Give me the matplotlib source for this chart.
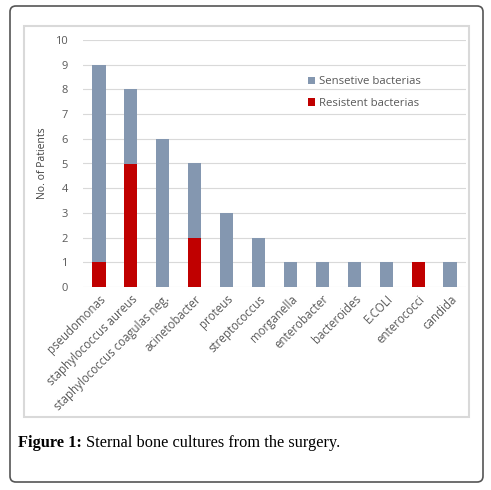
import numpy as np
import matplotlib
matplotlib.use("Agg")
import matplotlib.pyplot as plt
from matplotlib.patches import FancyBboxPatch, Rectangle

# bacteria found in the sternal bone cultures
bacteria = ["pseudomonas", "staphylococcus aureus", "staphylococcus coagulas neg.",
            "acinetobacter", "proteus", "streptococcus", "morganella", "enterobacter",
            "bacteroides", "E.COLI", "enterococci", "candida"]
resistent = [1, 5, 0, 2, 0, 0, 0, 0, 0, 0, 1, 0]
sensetive = [8, 3, 6, 3, 3, 2, 1, 1, 1, 1, 0, 1]
yticks = list(range(0, 11))

gray_blue = "#8497B0"
dark_red = "#C00000"
txt = "#595959"

plt.rcParams['font.family'] = ['Open Sans', 'DejaVu Sans']

fig = plt.figure(figsize=(4.91, 4.90), dpi=100)

# outer rounded frame of the figure box
fig.patches.append(FancyBboxPatch((10/491, 1-482/490), 473/491, 476/490,
                                  boxstyle="round,pad=0,rounding_size=0.012",
                                  transform=fig.transFigure, fill=False,
                                  edgecolor="#555555", linewidth=1.2))
# light frame of the chart area
fig.patches.append(Rectangle((24/491, 1-417/490), 445/491, 391/490,
                             transform=fig.transFigure, fill=False,
                             edgecolor="#D9D9D9", linewidth=1.5))

ax = fig.add_axes([83/491, 1-287/490, 383/491, 247/490])
x = np.arange(len(bacteria))
w = 0.41
ax.bar(x, resistent, width=w, color=dark_red, label="Resistent bacterias", zorder=3)
ax.bar(x, sensetive, width=w, bottom=resistent, color=gray_blue,
       label="Sensetive bacterias", zorder=3)

ax.set_ylim(0, 10)
ax.set_xlim(-0.5, len(bacteria) - 0.5)
ax.set_yticks(yticks)
ax.yaxis.grid(True, color="#D9D9D9", linewidth=0.8, zorder=0)
for s in ax.spines.values():
    s.set_visible(False)
ax.tick_params(length=0, colors=txt, labelsize=8)
ax.tick_params(axis='y', pad=11)
ax.tick_params(axis='x', labelsize=8.3, pad=4)
ax.set_xticks(x)
ax.set_xticklabels(bacteria, rotation=45, ha="right", rotation_mode="anchor")
ax.set_ylabel("No. of Patients", color="#404040", fontsize=7.5)
ax.yaxis.set_label_coords(-0.091, 0.5)

handles, labels = ax.get_legend_handles_labels()
ax.legend(handles[::-1], labels[::-1], loc="upper left", bbox_to_anchor=(0.56, 0.895),
          frameon=False, fontsize=8.2, labelcolor=txt, handlelength=0.6,
          handleheight=0.6, handletextpad=0.4, labelspacing=0.95)

cap_y = 1 - 443/490
t1 = fig.text(18/491, cap_y, "Figure 1:", fontsize=11.8, fontweight="bold",
              family="Liberation Serif", va="center", ha="left")
fig.canvas.draw()
bb = t1.get_window_extent().transformed(fig.transFigure.inverted())
fig.text(bb.x1 + 4/491, cap_y, "Sternal bone cultures from the surgery.", fontsize=11.8,
         family="Liberation Serif", va="center", ha="left")

fig.savefig("out.png", dpi=100)
